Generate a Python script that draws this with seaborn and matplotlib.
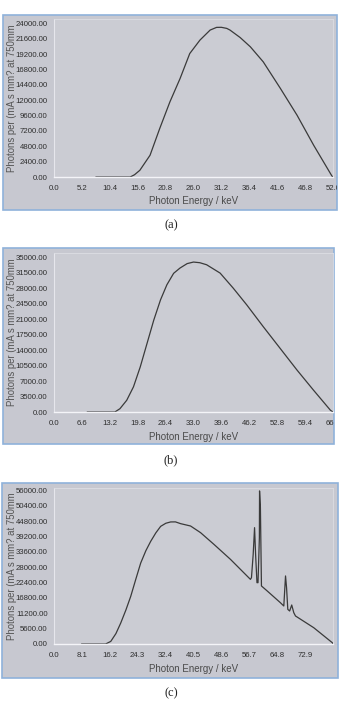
import numpy as np
import pandas as pd
import matplotlib.pyplot as plt
import matplotlib.patches as mpatches
import seaborn as sns

# 数据 (a)
energy_a = [7.8, 10.0, 12.0, 14.2, 15.0, 16.0, 17.9, 19.7, 21.6, 23.5, 25.3, 27.2, 29.1, 30.3,
            31.2, 32.2, 32.8, 34.7, 36.6, 39.0, 42.2, 45.3, 48.4, 51.8, 52.0]
photons_a = [0, 0, 0, 0, 350, 1050, 3400, 7570, 11740, 15400, 19300, 21400, 22970, 23390,
             23400, 23230, 22970, 21800, 20350, 18000, 13840, 9660, 4960, 150, 0]

# 数据 (b)
energy_b = [7.85, 10.0, 12.0, 14.4, 15.6, 17.2, 18.8, 20.4, 22.0, 23.6, 25.2, 26.7, 28.3, 29.8,
            31.5, 33.0, 34.5, 36.1, 39.3, 42.4, 45.6, 49.5, 53.5, 57.5, 61.4, 65.4, 66.0]
photons_b = [0, 0, 0, 0, 750, 2650, 5700, 10200, 15500, 20800, 25400, 28800, 31400, 32590,
             33600, 33950, 33800, 33340, 31450, 28040, 24250, 19320, 14400, 9480, 4930, 390, 0]

# 数据 (c)
energy_c = [8.0, 11.0, 15.0, 16.5, 18.0, 19.4, 20.9, 22.3, 23.8, 25.2, 26.7, 28.1, 29.6, 31.0, 32.5,
            33.9, 35.3, 36.8, 39.7, 42.6, 46.5, 51.3, 57.1, 57.4, 57.9, 58.3, 58.6, 59.0, 59.3, 59.7,
            59.75, 60.0, 60.3, 62.0, 65.8, 66.8, 67.3, 67.6, 67.96, 68.5, 69.1, 69.7, 70.2, 75.5,
            80.9, 81.1]
photons_c = [0, 0, 0, 950, 3800, 7650, 12400, 17350, 23700, 29500, 34000, 37400, 40500, 42870, 44000,
             44480, 44500, 43860, 43000, 40580, 36300, 30840, 23550, 24170, 32670, 42400, 32670, 22350, 22350, 38750,
             55780, 49700, 21150, 19300, 15060, 13850, 24800, 20530, 12620, 12030, 14220, 11410, 10210, 5940,
             470, 0]

panels = [
    dict(x=energy_a, y=photons_a, xmax=52.0, xtmax=52.0, xstep=5.2, ymax=24000, ystep=2400, ytop=24700,
         cap='(a)', ax_rect=[54, 19, 333, 177], frame=[3, 15, 337, 210], cap_y=225),
    dict(x=energy_b, y=photons_b, xmax=66.0, xtmax=66.0, xstep=6.6, ymax=35000, ystep=3500, ytop=36000,
         cap='(b)', ax_rect=[54, 253, 333, 412], frame=[3, 248, 334, 444], cap_y=460),
    dict(x=energy_c, y=photons_c, xmax=81.1, xtmax=72.9, xstep=8.1, ymax=56000, ystep=5600, ytop=56850,
         cap='(c)', ax_rect=[54, 488, 333, 644], frame=[2, 483, 338, 678], cap_y=693),
]

sns.set_style('white')
plt.rcParams['font.family'] = ['Liberation Sans Narrow', 'Liberation Sans', 'DejaVu Sans']

W, H = 342, 701
fig = plt.figure(figsize=(W / 100, H / 100), dpi=100)
fig.patch.set_facecolor('white')

for p in panels:
    fx0, fy0, fx1, fy1 = p['frame']
    frame = mpatches.Rectangle((fx0 / W, 1 - fy1 / H), (fx1 - fx0) / W, (fy1 - fy0) / H,
                               transform=fig.transFigure, facecolor='#c7c8d0',
                               edgecolor='#8fb2da', linewidth=1.2, zorder=0)
    fig.patches.append(frame)

    x0, y0, x1, y1 = p['ax_rect']
    ax = fig.add_axes([x0 / W, 1 - y1 / H, (x1 - x0) / W, (y1 - y0) / H])
    ax.set_zorder(2)
    ax.set_facecolor('#cbccd3')
    df = pd.DataFrame({'e': p['x'], 'n': p['y']})
    sns.lineplot(data=df, x='e', y='n', ax=ax, color='#3a3a3a', linewidth=0.9)

    ax.set_xlim(0, p['xmax'])
    ax.set_ylim(0, p['ytop'])
    xt = np.arange(0, p['xtmax'] + 0.01, p['xstep'])
    yt = np.arange(0, p['ymax'] + 1, p['ystep'])
    ax.set_xticks(xt)
    ax.set_xticklabels(['%.1f' % v for v in xt])
    ax.set_yticks(yt)
    ax.set_yticklabels(['%.2f' % v for v in yt])
    ax.tick_params(axis='both', labelsize=5.6, colors='#8a8a90', labelcolor='#2e2e2e',
                   length=1.5, width=0.6)
    ax.tick_params(axis='x', pad=4)
    ax.tick_params(axis='y', pad=3)
    for lab in ax.get_xticklabels() + ax.get_yticklabels():
        lab.set_clip_path(frame)
    for s in ['top', 'right']:
        ax.spines[s].set_color('#dcdde3')
        ax.spines[s].set_linewidth(0.6)
    ax.spines['left'].set_color('#e6e6ec')
    ax.spines['bottom'].set_color('#f4f4f8')
    ax.spines['left'].set_linewidth(0.8)
    ax.spines['bottom'].set_linewidth(1.0)

    ax.set_xlabel('Photon Energy / keV', fontsize=7, color='#4a4a4a', labelpad=3.5)
    ax.set_ylabel('Photons per (mA s mm? at 750mm', fontsize=6.9, color='#555555',
                  family=['Liberation Sans', 'DejaVu Sans'])
    ax.yaxis.set_label_coords(-0.132, 0.5)

    fig.text(171 / W, 1 - p['cap_y'] / H, p['cap'], ha='center', va='center',
             fontsize=9, family='Liberation Serif', color='#222222')

fig.savefig('out.png', dpi=100)
